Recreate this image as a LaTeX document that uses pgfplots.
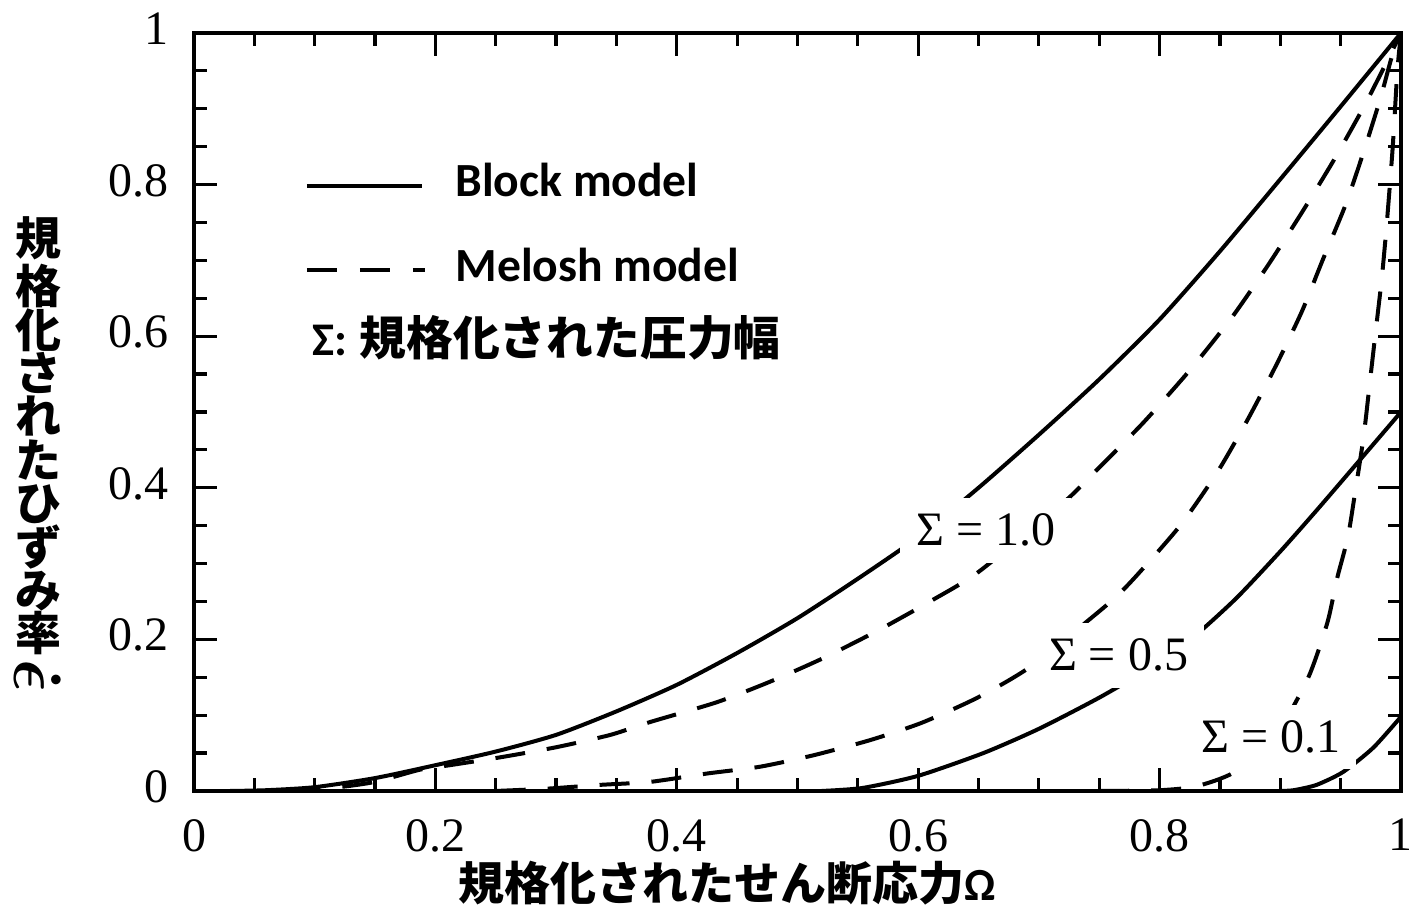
\documentclass[border=0pt]{standalone}
\usepackage{fontspec}
\setmainfont{Liberation Serif}
\newfontfamily\jp{Noto Sans CJK JP}
\newfontfamily\calib{Carlito}
\usepackage{graphicx}
\usepackage{pgfplots}
\pgfplotsset{compat=1.18}

\begin{document}
\begin{tikzpicture}
\begin{axis}[
  scale only axis, width=301.75pt, height=189.5pt,
  xmin=0, xmax=1, ymin=0, ymax=1,
  clip=false,
  xtick={0,0.2,0.4,0.6,0.8,1}, xticklabels={0,0.2,0.4,0.6,0.8,1},
  ytick={0,0.2,0.4,0.6,0.8,1}, yticklabels={0,0.2,0.4,0.6,0.8,1},
  minor tick num=3,
  tick align=inside,
  major tick length=5.75pt, minor tick length=3.25pt,
  axis line style={line width=0.8pt},
  every tick/.append style={line width=0.8pt, black},
  tick label style={font=\fontsize{12}{14}\selectfont},
  /pgf/number format/assume math mode=true,
  xticklabel style={yshift=-3.5pt},
  yticklabel style={xshift=-2.75pt, yshift=1pt},
]
% Block model, Sigma = 1.0
\addplot[line width=1pt, smooth, tension=0.4] coordinates {
(0.03,0) (0.06,0.001) (0.1,0.005) (0.15,0.017) (0.2,0.034) (0.25,0.052) (0.3,0.074)
(0.35,0.105) (0.4,0.14) (0.45,0.182) (0.5,0.228) (0.55,0.28) (0.6,0.335) (0.65,0.4)
(0.7,0.47) (0.75,0.543) (0.8,0.622) (0.85,0.712) (0.9,0.807) (0.95,0.903) (1,1)};
% Melosh model, Sigma = 1.0
\addplot[line width=1pt, smooth, tension=0.4, dash pattern=on 7.5pt off 5.5pt] coordinates {
(0.08,0) (0.12,0.005) (0.15,0.012) (0.187,0.028) (0.212,0.034) (0.256,0.045) (0.301,0.058)
(0.345,0.074) (0.378,0.091) (0.433,0.117) (0.477,0.144) (0.521,0.175) (0.567,0.212)
(0.612,0.252) (0.65,0.289) (0.72,0.38) (0.742,0.414) (0.786,0.485) (0.825,0.555)
(0.86,0.625) (0.89,0.694) (0.919,0.766) (0.945,0.834) (0.969,0.902) (0.987,0.958) (1,1)};
% Block model, Sigma = 0.5
\addplot[line width=1pt, smooth, tension=0.4] coordinates {
(0.52,0) (0.554,0.004) (0.6,0.02) (0.654,0.05) (0.7,0.082) (0.751,0.124) (0.8,0.17)
(0.831,0.207) (0.864,0.255) (0.9,0.316) (0.93,0.37) (0.964,0.433) (1,0.5)};
% Melosh model, Sigma = 0.5
\addplot[line width=1pt, smooth, tension=0.4, dash pattern=on 7.5pt off 5.5pt] coordinates {
(0.25,0) (0.292,0.003) (0.336,0.008) (0.378,0.012) (0.425,0.023) (0.469,0.032)
(0.513,0.047) (0.56,0.067) (0.603,0.09) (0.649,0.123) (0.693,0.164) (0.756,0.245)
(0.778,0.279) (0.817,0.35) (0.848,0.421) (0.873,0.49) (0.897,0.563) (0.918,0.633)
(0.935,0.7) (0.954,0.773) (0.969,0.843) (0.983,0.914) (0.993,0.972) (1,1)};
% Block model, Sigma = 0.1
\addplot[line width=1pt, smooth, tension=0.4] coordinates {
(0.9,0) (0.911,0.001) (0.93,0.008) (0.952,0.025) (0.977,0.057) (1,0.098)};
% Melosh model, Sigma = 0.1
\addplot[line width=1pt, smooth, tension=0.4, dash pattern=on 7.5pt off 5.5pt] coordinates {
(0.75,0) (0.8,0.001) (0.83,0.006) (0.861,0.024) (0.895,0.07) (0.923,0.149)
(0.939,0.222) (0.947,0.28) (0.956,0.335) (0.962,0.394) (0.969,0.467) (0.974,0.536)
(0.979,0.606) (0.984,0.675) (0.988,0.744) (0.993,0.846) (0.997,0.95) (1,1)};

% curve labels
\node[fill=white, inner sep=4pt, font=\fontsize{12}{14}\selectfont] at (axis cs:0.656,0.344) {Σ = 1.0};
\node[fill=white, inner sep=4pt, font=\fontsize{12}{14}\selectfont] at (axis cs:0.766,0.179) {Σ = 0.5};
\node[fill=white, inner sep=4pt, font=\fontsize{12}{14}\selectfont] at (axis cs:0.892,0.071) {Σ = 0.1};

% legend
\draw[line width=1pt] (rel axis cs:0.0936,0.798) -- (rel axis cs:0.189,0.798);
\draw[line width=1pt, dash pattern=on 7.5pt off 5.75pt] (rel axis cs:0.0936,0.687) -- (rel axis cs:0.1914,0.687);
\node[anchor=west, inner sep=0, font=\calib\bfseries\fontsize{11.9}{14}\selectfont] at (rel axis cs:0.216,0.806) {Block model};
\node[anchor=west, inner sep=0, font=\calib\bfseries\fontsize{11.9}{14}\selectfont] at (rel axis cs:0.216,0.694) {Melosh model};
\node[anchor=west, inner sep=0, font=\fontsize{11.7}{14}\selectfont] at (rel axis cs:0.0978,0.598) {{\calib\bfseries Σ:} {\jp\bfseries 規格化された圧力幅}};

% axis labels
\node[inner sep=0, font=\fontsize{11.5}{14}\selectfont] at (rel axis cs:0.4416,-0.1215) {{\jp\bfseries 規格化されたせん断応力}{\calib\bfseries Ω}};
\node[inner sep=0, align=center, font=\jp\bfseries\fontsize{11.5}{10.85}\selectfont] at (rel axis cs:-0.1292,0.4393)
 {規\\格\\化\\さ\\れ\\た\\ひ\\ず\\み\\率\\\rotatebox[origin=c]{-90}{\scalebox{1.4}{\boldmath$\dot{\epsilon}$}}};

\coordinate (BL) at (rel axis cs:-0.16073,-0.15172);
\coordinate (TR) at (rel axis cs:1.00663,1.04354);
\end{axis}
\pgfresetboundingbox
\path (BL) rectangle (TR);
\end{tikzpicture}
\end{document}
